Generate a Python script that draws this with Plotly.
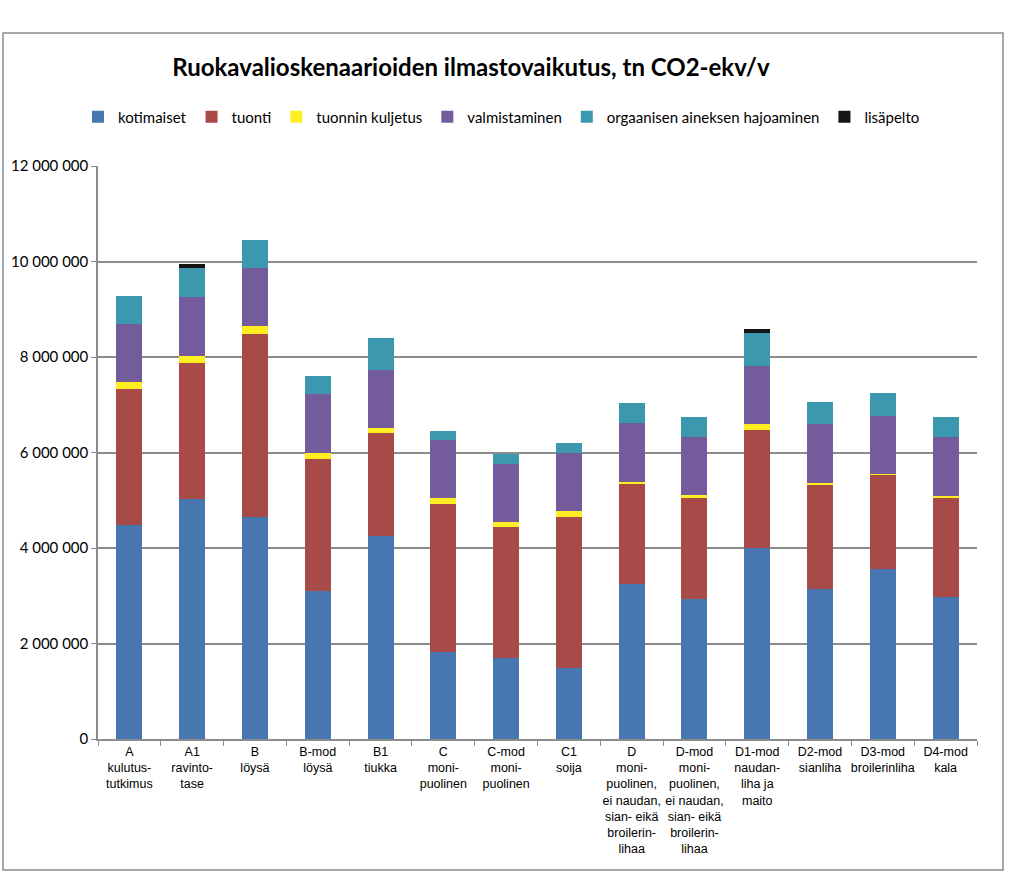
import plotly.graph_objects as go

categories = [
    "A<br>kulutus-<br>tutkimus",
    "A1<br>ravinto-<br>tase",
    "B<br>löysä",
    "B-mod<br>löysä",
    "B1<br>tiukka",
    "C<br>moni-<br>puolinen",
    "C-mod<br>moni-<br>puolinen",
    "C1<br>soija",
    "D<br>moni-<br>puolinen,<br>ei naudan,<br>sian- eikä<br>broilerin-<br>lihaa",
    "D-mod<br>moni-<br>puolinen,<br>ei naudan,<br>sian- eikä<br>broilerin-<br>lihaa",
    "D1-mod<br>naudan-<br>liha ja<br>maito",
    "D2-mod<br>sianliha",
    "D3-mod<br>broilerinliha",
    "D4-mod<br>kala",
]

kotimaiset = [4480000, 5030000, 4640000, 3100000, 4250000, 1820000, 1700000, 1490000, 3250000, 2940000, 3990000, 3140000, 3550000, 2970000]
tuonti = [2840000, 2840000, 3840000, 2760000, 2150000, 3100000, 2730000, 3150000, 2100000, 2120000, 2490000, 2200000, 1980000, 2080000]
tuonnin_kuljetus = [160000, 160000, 160000, 140000, 120000, 120000, 110000, 140000, 40000, 40000, 120000, 30000, 30000, 40000]
valmistaminen = [1220000, 1220000, 1230000, 1230000, 1210000, 1220000, 1220000, 1220000, 1220000, 1220000, 1220000, 1230000, 1210000, 1230000]
orgaaninen = [570000, 620000, 590000, 380000, 670000, 190000, 200000, 190000, 430000, 420000, 680000, 450000, 480000, 430000]
lisapelto = [0, 70000, 0, 0, 0, 0, 0, 0, 0, 0, 90000, 0, 0, 0]

y_tickvals = [0, 2000000, 4000000, 6000000, 8000000, 10000000, 12000000]
y_ticktext = ["0", "2 000 000", "4 000 000", "6 000 000", "8 000 000", "10 000 000", "12 000 000"]

series = [
    ("kotimaiset", kotimaiset, "#4876B0"),
    ("tuonti", tuonti, "#A84A48"),
    ("tuonnin kuljetus", tuonnin_kuljetus, "#FFEE22"),
    ("valmistaminen", valmistaminen, "#735B9C"),
    ("orgaanisen aineksen hajoaminen", orgaaninen, "#3C98AF"),
    ("lisäpelto", lisapelto, "#151515"),
]

fig = go.Figure()
for name, vals, color in series:
    fig.add_trace(go.Bar(
        name=name, x=categories, y=vals,
        marker=dict(color=color, line=dict(width=0)),
    ))

W, H = 1024, 875
L, R, T, B = 98, 47, 166, 136
pw = W - L - R
ph = H - T - B

def px_x(x):
    return (x - L) / pw

def px_y(y):
    return (H - B - y) / ph

fig.update_layout(
    width=W, height=H,
    barmode="stack",
    bargap=0.585,
    plot_bgcolor="white",
    paper_bgcolor="white",
    margin=dict(l=L, r=R, t=T, b=B, autoexpand=False),
    font=dict(family="Lato, Open Sans, sans-serif", color="#000000"),
    title=dict(
        text="<b>Ruokavalioskenaarioiden ilmastovaikutus, tn CO2-ekv/v</b>",
        x=px_x(471), xref="paper", xanchor="center",
        y=1 - 68 / H, yref="container", yanchor="middle",
        font=dict(family="Lato, Open Sans, sans-serif", size=24, color="#000000"),
    ),
    legend=dict(
        orientation="h",
        x=px_x(78), xanchor="left",
        y=px_y(117), yanchor="middle",
        font=dict(family="Lato, Open Sans, sans-serif", size=15, color="#000000"),
        itemwidth=30,
        traceorder="normal",
        bgcolor="rgba(0,0,0,0)",
    ),
    xaxis=dict(
        showline=True, linecolor="#8C8C8C", linewidth=1.5,
        ticks="outside", tickson="boundaries", ticklen=5, tickcolor="#8C8C8C",
        tickangle=0,
        tickfont=dict(family="Liberation Sans, Arial, sans-serif", size=12.5, color="#000000"),
        showgrid=False,
    ),
    yaxis=dict(
        range=[0, 12000000],
        tickvals=y_tickvals, ticktext=y_ticktext,
        showline=True, linecolor="#8C8C8C", linewidth=1.5,
        ticks="outside", ticklen=5, tickcolor="#8C8C8C",
        showgrid=True, gridcolor="#8C8C8C", gridwidth=1.5,
        tickfont=dict(family="Lato, Open Sans, sans-serif", size=15, color="#000000"),
        zeroline=False,
    ),
)

# outer frame of the chart
fig.add_shape(
    type="rect", xref="paper", yref="paper",
    x0=px_x(3), x1=px_x(1003), y0=px_y(870), y1=px_y(33),
    line=dict(color="#8C8C8C", width=1.5), fillcolor="rgba(0,0,0,0)", layer="below",
)

fig.write_html(
    "out.html",
    config={"displayModeBar": False},
    post_script="document.body.style.margin='0';",
)
